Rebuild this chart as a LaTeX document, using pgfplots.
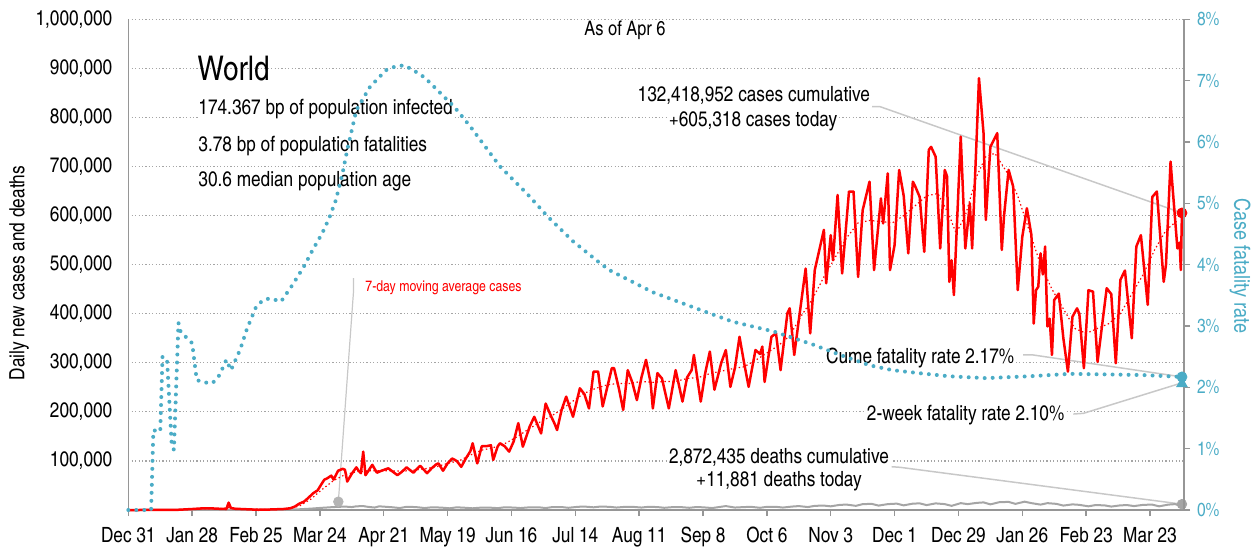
\documentclass[border=0pt]{standalone}
\usepackage{pgfplots}
\pgfplotsset{compat=1.18}
\usepackage{fontspec}
\setmainfont{TeX Gyre Heros Cn}
\definecolor{cfrblue}{RGB}{75,172,198}
\definecolor{axgray}{RGB}{150,150,150}
\definecolor{gridgray}{RGB}{165,165,165}
\definecolor{leadgray}{RGB}{200,200,200}
\definecolor{dgray}{RGB}{165,165,165}
\newcommand{\tf}{\fontsize{10.5}{12}\selectfont}
\begin{document}
\begin{tikzpicture}
\useasboundingbox (-64.15pt,-18.5pt) rectangle (561.35pt,255pt);
\begin{axis}[at={(0,0)}, anchor=south west,
  width=527.85pt, height=245.35pt, scale only axis,
  xmin=0, xmax=462.9, ymin=0, ymax=1000000,
  axis x line*=bottom, axis y line*=left,
  axis line style={axgray, line width=0.75pt},
  xtick={0,28,...,448},
  xticklabels={Dec 31,Jan 28,Feb 25,Mar 24,Apr 21,May 19,Jun 16,Jul 14,Aug 11,Sep 8,Oct 6,Nov 3,Dec 1,Dec 29,Jan 26,Feb 23,Mar 23},
  ytick={0,100000,...,1000000},
  yticklabels={{},{100,000},{200,000},{300,000},{400,000},{500,000},{600,000},{700,000},{800,000},{900,000},{1,000,000}},
  tick align=outside, major tick length=3pt,
  xtick style={axgray, line width=0.75pt},
  ytick style={draw=none},
  xticklabel style={font=\tf, yshift=-2pt},
  yticklabel style={font=\tf, xshift=-1.5pt},
  ymajorgrids,
  grid style={gridgray, dash pattern=on 0.6pt off 1.1pt, line width=0.6pt},
  ylabel={Daily new cases and deaths},
  every axis y label/.style={at={(axis description cs:0,0.483)}, rotate=90, anchor=center, yshift=54.6pt, font=\tf},
  clip=false,
  scaled y ticks=false,
]
% text annotations
\node[anchor=base, font=\fontsize{10}{12}\selectfont] at (axis cs:217.8,968000) {As of Apr 6};
\node[anchor=base west, inner sep=0pt, font=\fontsize{17}{20}\selectfont] at (axis cs:30.2,876300) {World};
\node[anchor=base west, fill=white, inner xsep=0pt, inner ysep=1pt, font=\tf] at (axis cs:30.6,805000) {174.367 bp of population infected};
\node[anchor=base west, fill=white, inner xsep=0pt, inner ysep=1pt, font=\tf] at (axis cs:30.6,730200) {3.78 bp of population fatalities};
\node[anchor=base west, fill=white, inner xsep=0pt, inner ysep=1pt, font=\tf] at (axis cs:30.6,658900) {30.6 median population age};
% leaders
\draw[leadgray, line width=0.75pt] (axis cs:326,822000) -- (axis cs:329.6,822000) -- (axis cs:462,605318);
\draw[leadgray, line width=0.75pt] (axis cs:392.4,315900) -- (axis cs:396.8,315900) -- (axis cs:462,271250);
\draw[leadgray, line width=0.75pt] (axis cs:414.4,195600) -- (axis cs:418.8,197000) -- (axis cs:461.2,258000);
\draw[leadgray, line width=0.75pt] (axis cs:334.7,88200) -- (axis cs:338.4,87000) -- (axis cs:462,11881);
\draw[leadgray, line width=0.6pt] (axis cs:98.7,472800) -- (axis cs:98.7,442200) -- (axis cs:92.1,16900);
\node[anchor=base, fill=white, inner xsep=1pt, inner ysep=1pt, font=\tf] at (axis cs:274.3,832100) {132,418,952 cases cumulative};
\node[anchor=base, fill=white, inner xsep=1pt, inner ysep=1pt, font=\tf] at (axis cs:273.9,781100) {+605,318 cases today};
\node[anchor=base east, fill=white, inner xsep=1pt, inner ysep=1pt, font=\tf] at (axis cs:389.5,299000) {Cume fatality rate 2.17\%};
\node[anchor=base east, fill=white, inner xsep=1pt, inner ysep=1pt, font=\tf] at (axis cs:411.5,182000) {2-week fatality rate 2.10\%};
\node[anchor=base, fill=white, inner xsep=1pt, inner ysep=1pt, font=\tf] at (axis cs:285.3,95200) {2,872,435 deaths cumulative};
\node[anchor=base, fill=white, inner xsep=1pt, inner ysep=1pt, font=\tf] at (axis cs:285.3,47500) {+11,881 deaths today};
\node[anchor=base west, inner sep=0pt, red, font=\fontsize{7.5}{9}\selectfont] at (axis cs:103.8,444300) {7-day moving average cases};
% deaths
\addplot[dgray, line width=1pt, line join=round] coordinates {
(0,0)(40,100)(44,250)(50,100)(60,100)(70,600)(75,1500)(80,2800)(85,4500)(90,6000)(95,7000)(98,6000)(100,7500)(103,8000)(105,6500)(108,5000)(110,7500)(113,6500)(116,5500)(119,4000)(122,6500)(126,6000)(130,4000)(133,5500)(137,5000)(141,3500)(144,5500)(148,4500)(151,3500)(155,5000)(158,5000)(162,3800)(165,5500)(169,5000)(172,4000)(176,5500)(180,5500)(183,4000)(186,6000)(190,6000)(193,4500)(197,6500)(200,7000)(204,5500)(207,7000)(211,6500)(214,5000)(218,6500)(221,6500)(225,5000)(228,6500)(232,6000)(235,4500)(239,6000)(242,6000)(246,4500)(249,6000)(252,5500)(256,4000)(259,6000)(262,8000)(266,5000)(270,6000)(273,6500)(277,4500)(280,6500)(284,6500)(287,5000)(291,7000)(294,8000)(298,6000)(301,8500)(305,9000)(308,7500)(312,10500)(315,11000)(319,8500)(322,12000)(326,12500)(329,9000)(333,12000)(337,13000)(340,9500)(344,13000)(347,13500)(350,10000)(354,13500)(358,12000)(361,8500)(365,14000)(368,12000)(372,14500)(375,15500)(378,11500)(382,16000)(386,16500)(389,12500)(393,17000)(396,14000)(400,11000)(403,14000)(407,12500)(410,9000)(414,11500)(417,10500)(421,7500)(424,10000)(428,9500)(431,7000)(435,9500)(438,10000)(441,8000)(445,10500)(449,11000)(452,7500)(456,11000)(459,12000)(461,9000)(462,11881)
};
% 7-day MA cases
\addplot[red, line width=0.6pt, dash pattern=on 0.7pt off 1.3pt] coordinates {
(0,0)(20,500)(30,2000)(40,2800)(44,4500)(50,2500)(60,1000)(65,1500)(70,2500)(75,8000)(80,22000)(85,42000)(90,60000)(95,72000)(100,78000)(105,80000)(110,80000)(115,80000)(120,79000)(125,81000)(130,84000)(135,88000)(140,95000)(145,100000)(150,112000)(155,122000)(160,127000)(165,135000)(170,148000)(175,163000)(180,178000)(185,190000)(190,205000)(195,222000)(200,238000)(205,248000)(210,255000)(215,258000)(220,258000)(225,262000)(230,260000)(235,262000)(240,262000)(245,268000)(250,270000)(255,278000)(260,283000)(265,288000)(270,292000)(275,305000)(280,320000)(285,335000)(290,355000)(295,395000)(300,430000)(305,475000)(310,515000)(315,555000)(320,585000)(325,590000)(330,588000)(335,585000)(340,600000)(345,620000)(350,640000)(355,645000)(360,600000)(363,564000)(367,600000)(372,680000)(376,720000)(380,727000)(385,690000)(390,640000)(395,570000)(400,500000)(405,450000)(410,410000)(415,370000)(420,360000)(425,370000)(430,380000)(435,400000)(440,440000)(445,480000)(450,530000)(455,570000)(460,590000)
};
% daily cases
\addplot[red, line width=1.25pt, line join=round] coordinates {
(0,0)(15,50)(22,500)(28,2000)(33,3500)(37,3200)(40,2500)(43,2000)(44,15000)(45,4000)(47,2500)(52,1500)(57,500)(62,1000)(65,1500)(68,2000)(71,3500)(73,7000)(75,13000)(77,17000)(79,25000)(81,34000)(83,40000)(85,55000)(86,62000)(87,64000)(89,70000)(90,62000)(92,80000)(94,84000)(95,82000)(96,58000)(98,74000)(100,87000)(101,80000)(102,75000)(103,119000)(104,71000)(106,85000)(107,92000)(109,76000)(111,80000)(114,85000)(116,78000)(118,71000)(120,78000)(122,87000)(125,76000)(127,86000)(128,90000)(130,80000)(131,75000)(133,85000)(135,93000)(136,95000)(138,80000)(140,95000)(142,105000)(144,100000)(146,88000)(148,105000)(150,120000)(151,136000)(153,95000)(155,130000)(157,130000)(159,132000)(160,102000)(162,130000)(163,136000)(165,130000)(167,119000)(169,140000)(171,177000)(173,129000)(176,170000)(178,190000)(181,156000)(183,217000)(185,195000)(187,175000)(188,163000)(190,204000)(192,231000)(195,190000)(198,248000)(200,236000)(202,207000)(204,282000)(206,282000)(208,211000)(210,250000)(212,289000)(213,289000)(215,250000)(217,204000)(219,285000)(221,260000)(223,224000)(225,270000)(227,306000)(229,260000)(230,207000)(232,279000)(234,268000)(237,207000)(240,285000)(243,221000)(245,270000)(247,285000)(248,316000)(251,221000)(253,280000)(255,323000)(257,245000)(260,300000)(262,326000)(264,251000)(266,290000)(268,353000)(270,300000)(272,251000)(275,326000)(277,318000)(278,333000)(279,261000)(282,353000)(284,360000)(286,285000)(289,401000)(290,411000)(292,316000)(294,387000)(297,492000)(299,360000)(301,489000)(305,571000)(306,462000)(308,560000)(309,509000)(311,642000)(313,482000)(316,649000)(318,649000)(320,475000)(322,611000)(325,669000)(327,489000)(330,635000)(331,584000)(333,686000)(334,489000)(336,540000)(338,693000)(340,640000)(342,523000)(344,669000)(345,660000)(347,638000)(349,526000)(351,734000)(352,740000)(354,720000)(356,533000)(358,693000)(359,680000)(360,465000)(361,509000)(362,438000)(365,761000)(367,533000)(369,625000)(370,533000)(372,761000)(373,880000)(375,768000)(376,591000)(378,740000)(381,768000)(383,530000)(384,600000)(386,693000)(388,659000)(390,448000)(392,557000)(394,615000)(396,560000)(397,380000)(398,448000)(399,455000)(400,523000)(401,480000)(402,537000)(403,374000)(404,390000)(405,316000)(406,428000)(408,441000)(410,350000)(412,282000)(414,394000)(416,411000)(417,400000)(419,289000)(421,448000)(423,445000)(425,302000)(429,452000)(431,440000)(433,299000)(435,469000)(437,488000)(440,350000)(442,537000)(444,560000)(447,418000)(449,638000)(451,649000)(454,465000)(455,500000)(457,710000)(460,533000)(461,545000)(461.5,489000)(462,605318)
};
\addplot[only marks, mark=*, mark size=2.5pt, mark options={draw=red, fill=red}] coordinates {(462,605318)};
\addplot[only marks, mark=*, mark size=2.4pt, mark options={draw=dgray, fill=dgray}] coordinates {(462,11881)};
\addplot[only marks, mark=*, mark size=2.4pt, mark options={draw=leadgray!90!black, fill=leadgray!90!black}] coordinates {(92.1,16900)};
\end{axis}
\begin{axis}[at={(0,0)}, anchor=south west,
  width=527.85pt, height=245.35pt, scale only axis,
  xmin=0, xmax=462.9, ymin=0, ymax=8,
  axis x line=none, axis y line*=right,
  axis line style={axgray, line width=0.75pt},
  ytick={0,1,...,8},
  yticklabels={0\%,1\%,2\%,3\%,4\%,5\%,6\%,7\%,8\%},
  tick align=outside, major tick length=3pt,
  ytick style={axgray, line width=0.75pt},
  yticklabel style={cfrblue, font=\fontsize{9.5}{11}\selectfont},
  ylabel={Case fatality rate},
  every axis y label/.style={at={(axis description cs:1,0.497)}, rotate=-90, anchor=center, yshift=28pt, cfrblue, font=\fontsize{11}{13}\selectfont},
  clip=false,
]
\addplot[cfrblue, line width=2pt, line cap=round, dash pattern=on 0pt off 4pt] coordinates {
(0,0)(10,0)(11,1.30)(14,1.28)(15,2.50)(17,2.45)(19,1.09)(20,0.98)(22,3.05)(23,2.9)(25,2.83)(28,2.72)(30,2.12)(33,2.08)(37,2.07)(40,2.2)(43,2.45)(45,2.28)(49,2.61)(52,2.95)(56,3.31)(59,3.42)(62,3.45)(67,3.40)(72,3.67)(77,3.97)(81,4.25)(85,4.51)(88,4.75)(91,5.05)(94,5.5)(96,5.87)(100,6.52)(106,6.90)(113,7.17)(117,7.23)(121,7.25)(125,7.17)(130,7.05)(140,6.68)(143,6.57)(150,6.25)(163,5.60)(175,5.15)(184,4.78)(195,4.38)(207,4.02)(211,3.91)(230,3.55)(251,3.26)(265,3.07)(283,2.91)(300,2.70)(312,2.53)(325,2.36)(335,2.28)(347,2.23)(360,2.18)(376,2.15)(395,2.18)(413,2.22)(430,2.21)(445,2.20)(462,2.17)
};
\addplot[only marks, mark=triangle*, mark size=3pt, mark options={draw=cfrblue, fill=cfrblue}] coordinates {(462,2.06)};
\addplot[only marks, mark=*, mark size=2.5pt, mark options={draw=cfrblue, fill=cfrblue}] coordinates {(462,2.17)};
\end{axis}
\end{tikzpicture}
\end{document}
